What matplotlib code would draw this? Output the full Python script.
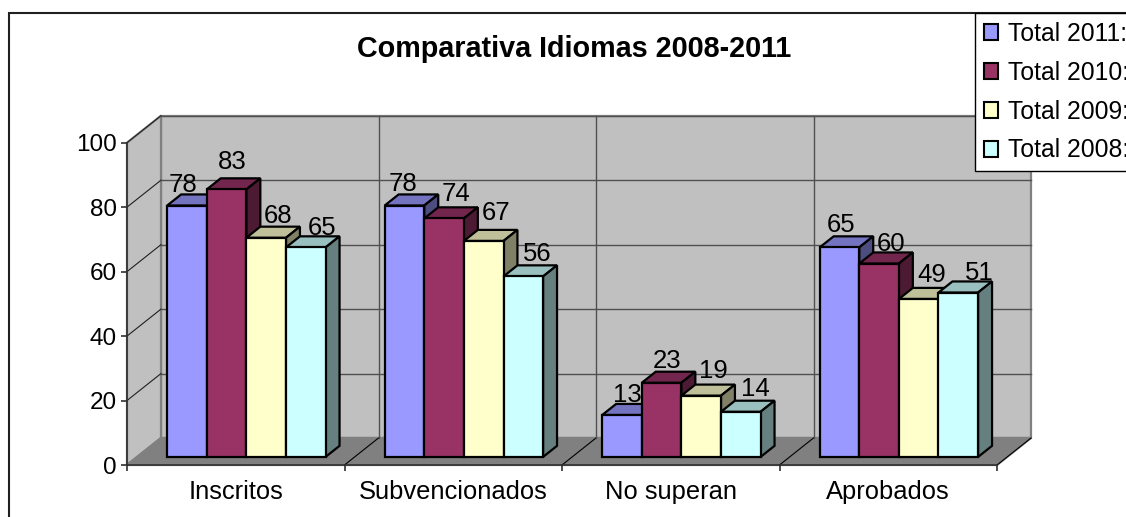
"""Comparativa Idiomas 2008-2011, Excel style 3D column chart
"""
import matplotlib
matplotlib.use('Agg')
import matplotlib.patches as mpatches
import matplotlib.pyplot as plt
from matplotlib.colors import to_rgb

# Data
categories = ['Inscritos', 'Subvencionados', 'No superan', 'Aprobados']
total_2011 = [78, 78, 13, 65]
total_2010 = [83, 74, 23, 60]
total_2009 = [68, 67, 19, 49]
total_2008 = [65, 56, 14, 51]
series_names = ['Total 2011:', 'Total 2010:', 'Total 2009:', 'Total 2008:']
y_ticks = [0, 20, 40, 60, 80, 100]

series = [total_2011, total_2010, total_2009, total_2008]
colors = ['#9999FF', '#993366', '#FFFFCC', '#CCFFFF']

# Value label placement in pixels, per category and series (Excel moves them)
label_dx = [[-4, 6, 12, 16], [-1, 12, 12, 14], [5, 5, 12, 15], [2, 12, 13, 21]]
label_dy = [[14, 20, 15, 12], [15, 17, 21, 15], [13, 15, 18, 16], [15, 13, 17, 13]]

W, H = 1126, 517
plt.rcParams['font.family'] = ['Liberation Sans', 'DejaVu Sans']

fig = plt.figure(figsize=(W / 100, H / 100), dpi=100)
ax = fig.add_axes([127 / W, (H - 465) / H, 870 / W, 322.3 / H])
ax.set_xlim(0, 4)
ax.set_ylim(0, 100)
ax.patch.set_visible(False)

# Pixel sizes in data units
px_x = 4 / 870
px_y = 100 / 322.3
DX = 34 * px_x
DY = 27 * px_y


def shade(color, factor):
    return tuple(c * factor for c in to_rgb(color))


def face(points, color, zorder, edge='black', lw=1.6):
    ax.add_patch(mpatches.Polygon(points, closed=True, facecolor=color,
                                  edgecolor=edge, linewidth=lw,
                                  zorder=zorder, clip_on=False))


# Walls and floor
face([(DX, DY), (4 + DX, DY), (4 + DX, 100 + DY), (DX, 100 + DY)],
     '#C0C0C0', 1, edge='#808080')
face([(0, 0), (DX, DY), (DX, 100 + DY), (0, 100)], '#C0C0C0', 1, edge='#808080')
face([(0, 0), (4, 0), (4 + DX, DY), (DX, DY)], '#808080', 1, edge='#808080')

# Gridlines
for tick in y_ticks[1:]:
    ax.plot([0, DX], [tick, tick + DY], color='#202020',
            linewidth=0.8, zorder=2, clip_on=False)
    ax.plot([DX, 4 + DX], [tick + DY, tick + DY], color='#505050',
            linewidth=1, zorder=2, clip_on=False)
for i in range(1, 5):
    ax.plot([i, i + DX], [0, DY], color='black', linewidth=0.8, zorder=2,
            clip_on=False)
    if i < 4:
        ax.plot([i + DX, i + DX], [DY, 100 + DY], color='#505050',
                linewidth=1, zorder=2, clip_on=False)

# Bars, left to right so each front face covers the side of the one before
bar_w = 39.6 * px_x
pad = 30 * px_x
d0 = 0.30
d1 = 0.71
for g in range(len(categories)):
    for s, values in enumerate(series):
        value = values[g]
        zorder = 3 + g * 4 + s
        x0 = g + pad + s * bar_w + d0 * DX
        x1 = x0 + bar_w
        y0 = d0 * DY
        y1 = y0 + value
        depth_x = (d1 - d0) * DX
        depth_y = (d1 - d0) * DY
        face([(x0, y1), (x1, y1), (x1 + depth_x, y1 + depth_y),
              (x0 + depth_x, y1 + depth_y)], shade(colors[s], 0.75), zorder)
        face([(x1, y0), (x1 + depth_x, y0 + depth_y),
              (x1 + depth_x, y1 + depth_y), (x1, y1)],
             shade(colors[s], 0.5), zorder)
        ax.bar(x0, value, width=bar_w, bottom=y0, align='edge', color=colors[s],
               edgecolor='black', linewidth=1.6, zorder=zorder, clip_on=False)
        ax.text(x0 + bar_w / 2 + label_dx[g][s] * px_x,
                y1 + label_dy[g][s] * px_y, str(value), ha='center',
                va='baseline', fontsize=18.5, color='black', zorder=40)

# Axes
for name in ['top', 'right']:
    ax.spines[name].set_visible(False)
for name in ['left', 'bottom']:
    ax.spines[name].set_color('#303030')
    ax.spines[name].set_linewidth(1.2)
    ax.spines[name].set_zorder(2.5)
ax.set_yticks(y_ticks)
ax.set_xticks(range(5))
ax.set_xticklabels([])
ax.set_xticks([i + 0.5 for i in range(4)], categories, minor=True)
ax.tick_params(axis='both', which='major', length=4.5, width=1.2, color='#303030',
               labelsize=17.5, pad=3)
ax.tick_params(axis='x', which='minor', length=0, labelsize=18.4, pad=10.5)

# Chart frame
fig.add_artist(mpatches.Rectangle((9 / W, -0.1), 1.2, 1.1 - 13 / H,
                                  transform=fig.transFigure, facecolor='none',
                                  edgecolor='#202020', linewidth=1.5, zorder=0))

fig.text(574.5 / W, 1 - 57 / H, 'Comparativa Idiomas 2008-2011', ha='center',
         va='baseline', fontsize=20.7, fontweight='bold')

# Legend, runs off the right edge like the original
handles = [mpatches.Patch(facecolor=c, edgecolor='black', linewidth=1.5)
           for c in colors]
leg = fig.legend(handles, series_names, loc='upper left',
                 bbox_to_anchor=(975 / W, 1 - 13 / H), frameon=True,
                 fancybox=False, framealpha=1, edgecolor='black', fontsize=17.8,
                 handlelength=0.56, handleheight=0.6, handletextpad=0.41,
                 labelspacing=0.6, borderpad=0.36, borderaxespad=0)
leg.get_frame().set_linewidth(1)
leg.set_zorder(50)

plt.savefig('out.png', dpi=100)
